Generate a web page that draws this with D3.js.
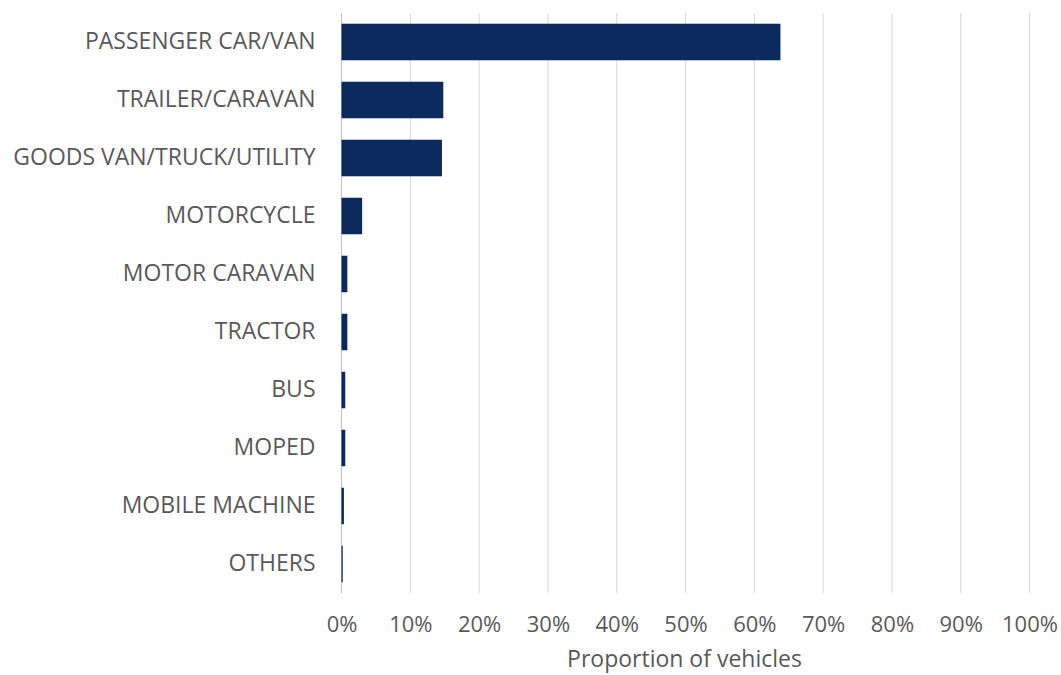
<!DOCTYPE html>
<html>
<head>
<meta charset="utf-8">
<script src="https://cdn.jsdelivr.net/npm/d3@7"></script>
<style>
  body { margin: 0; background: #fff; }
  text { font-family: "Open Sans", sans-serif; fill: #595959; }
</style>
</head>
<body>
<div id="chart"></div>
<script>
const categories = [
  'PASSENGER CAR/VAN', 'TRAILER/CARAVAN', 'GOODS VAN/TRUCK/UTILITY', 'MOTORCYCLE',
  'MOTOR CARAVAN', 'TRACTOR', 'BUS', 'MOPED', 'MOBILE MACHINE', 'OTHERS'
];
const proportions = [0.638, 0.148, 0.146, 0.030, 0.0085, 0.0085, 0.0055, 0.0055, 0.0035, 0.0018];
const xTicks = [0, 0.1, 0.2, 0.3, 0.4, 0.5, 0.6, 0.7, 0.8, 0.9, 1.0];

const svgWidth = 1061;
const svgHeight = 675;
const margin = { top: 13, right: 31.5, bottom: 82, left: 341.5 };

const svg = d3.select('#chart')
  .append('svg')
  .attr('width', svgWidth)
  .attr('height', svgHeight);

const xScale = d3.scaleLinear()
  .domain([0, 1])
  .range([margin.left, svgWidth - margin.right]);

const yScale = d3.scaleBand()
  .domain(categories)
  .range([margin.top, svgHeight - margin.bottom])
  .paddingInner(0.37)
  .paddingOuter(0.185);

// gridlines
svg.append('g')
  .selectAll('line')
  .data(xTicks)
  .enter()
  .append('line')
  .attr('x1', d => xScale(d))
  .attr('x2', d => xScale(d))
  .attr('y1', margin.top)
  .attr('y2', svgHeight - margin.bottom)
  .attr('stroke', d => d === 0 ? '#bfbfbf' : '#d9d9d9')
  .attr('stroke-width', 1);

svg.selectAll('.bar')
  .data(d3.zip(categories, proportions))
  .enter()
  .append('rect')
  .attr('class', 'bar')
  .attr('x', xScale(0))
  .attr('y', d => yScale(d[0]))
  .attr('width', d => xScale(d[1]) - xScale(0))
  .attr('height', yScale.bandwidth())
  .attr('fill', '#0b2a5e');

// category labels
const yAxis = svg.append('g')
  .attr('transform', `translate(${margin.left}, 0)`)
  .call(d3.axisLeft(yScale).tickSize(0).tickPadding(26));
yAxis.select('.domain').remove();
yAxis.selectAll('text')
  .style('font-size', '23px')
  .style('font-family', '"Open Sans", sans-serif')
  .attr('fill', '#595959');

// x axis labels
const xAxis = svg.append('g')
  .attr('transform', `translate(0, ${svgHeight - margin.bottom})`)
  .call(d3.axisBottom(xScale).tickValues(xTicks).tickFormat(d3.format('.0%')).tickSize(0).tickPadding(23));
xAxis.select('.domain').remove();
xAxis.selectAll('text')
  .style('font-size', '22px')
  .style('font-family', '"Open Sans", sans-serif')
  .attr('fill', '#595959');

svg.append('text')
  .attr('x', xScale(0.5) - 1)
  .attr('y', 667)
  .attr('text-anchor', 'middle')
  .style('font-size', '23px')
  .text('Proportion of vehicles');
</script>
</body>
</html>
